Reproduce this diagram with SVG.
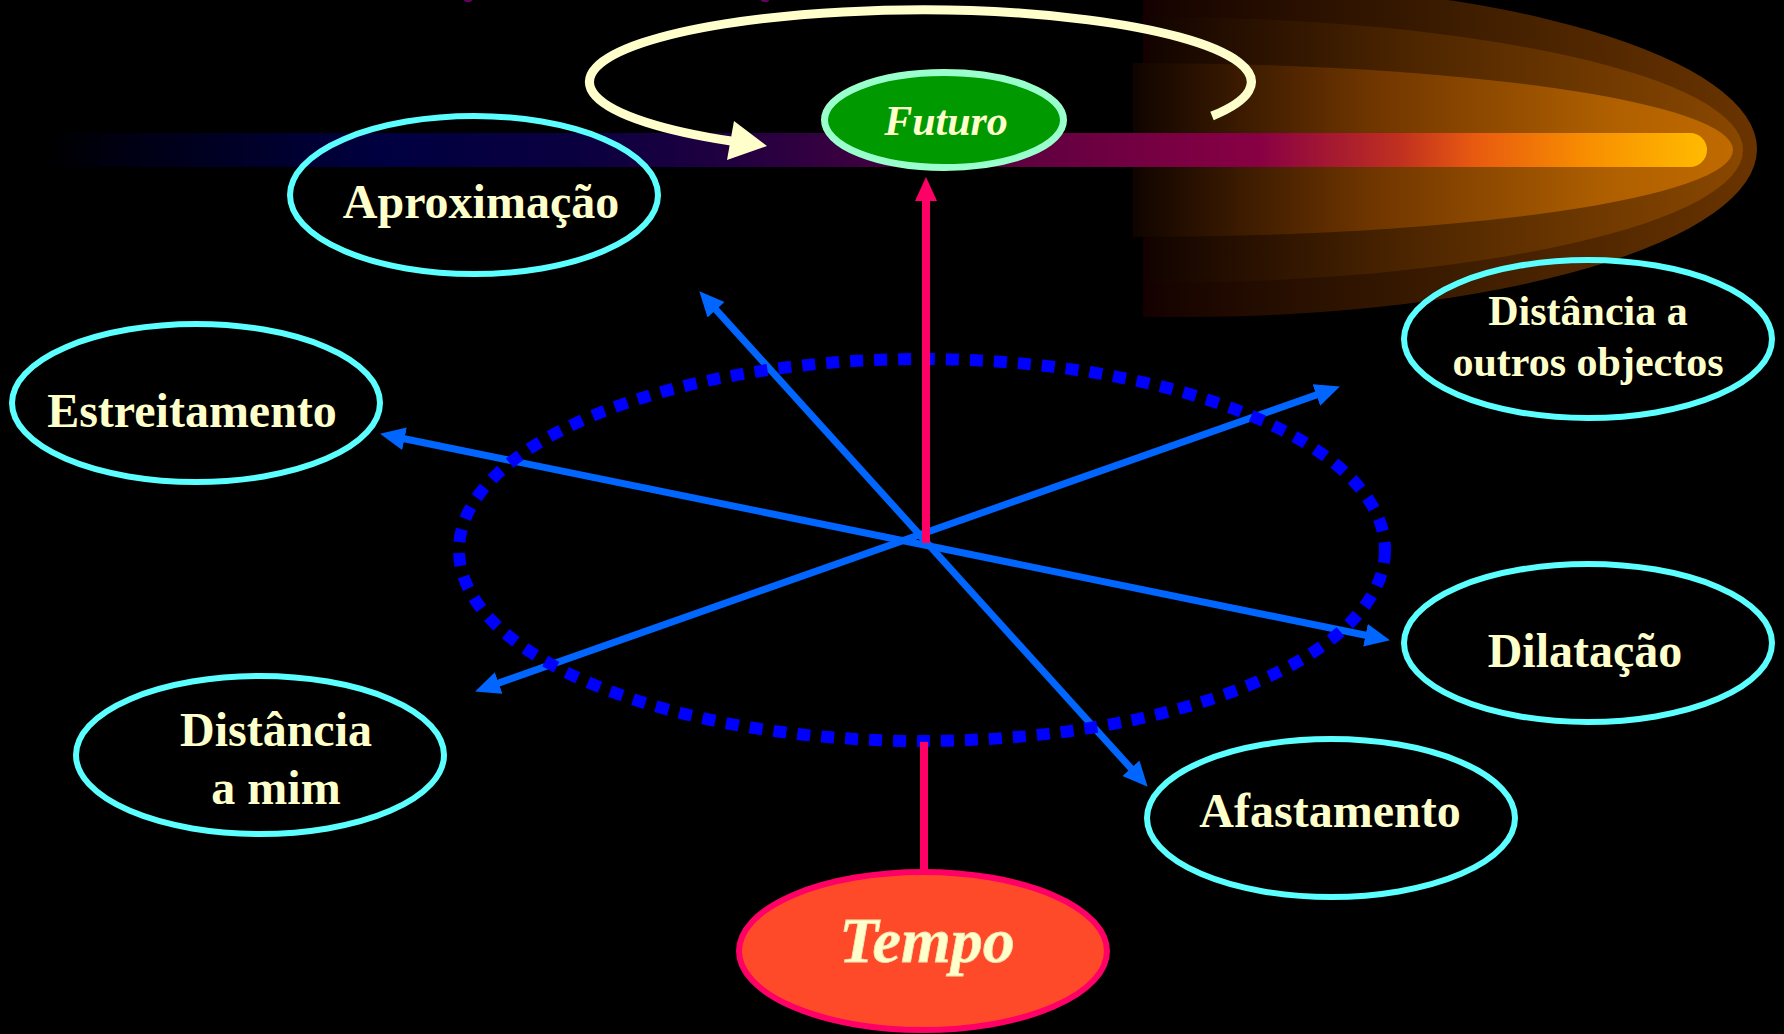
<svg xmlns="http://www.w3.org/2000/svg" width="1784" height="1034" viewBox="0 0 1784 1034">
  <defs>
    <style>
      .lbl { font-family: "Liberation Serif", "Times New Roman", serif; font-weight: bold; fill: #ffffcc; text-anchor: middle; }
      .big { font-size: 48px; }
      .med { font-size: 42px; }
      .ital { font-style: italic; }
      .node { fill: none; stroke: #5cffff; stroke-width: 6; }
      .blue { stroke: #0066ff; stroke-width: 7; fill: none; marker-start: url(#ab); marker-end: url(#ab); }
      .pink { stroke: #ff0066; stroke-width: 8; fill: none; }
    </style>
    <marker id="ab" viewBox="0 0 25 23" markerWidth="25" markerHeight="23" refX="4" refY="11.5" orient="auto-start-reverse" markerUnits="userSpaceOnUse">
      <path d="M0,0 L25,11.5 L0,23 Z" fill="#0066ff"/>
    </marker>
    <linearGradient id="gbar" gradientUnits="userSpaceOnUse" x1="45" y1="0" x2="1707" y2="0">
      <stop offset="0" stop-color="#000000"/>
      <stop offset="0.04" stop-color="#000010"/>
      <stop offset="0.2" stop-color="#000040"/>
      <stop offset="0.32" stop-color="#0a0040"/>
      <stop offset="0.41" stop-color="#200040"/>
      <stop offset="0.59" stop-color="#600040"/>
      <stop offset="0.73" stop-color="#880044"/>
      <stop offset="0.815" stop-color="#c03020"/>
      <stop offset="0.86" stop-color="#e85a10"/>
      <stop offset="0.93" stop-color="#f89000"/>
      <stop offset="1" stop-color="#ffbb00"/>
    </linearGradient>
    <linearGradient id="g1" gradientUnits="userSpaceOnUse" x1="1143" y1="0" x2="1757" y2="0">
      <stop offset="0" stop-color="#140000"/>
      <stop offset="0.07" stop-color="#1a0600"/>
      <stop offset="0.5" stop-color="#3c1c00"/>
      <stop offset="1" stop-color="#6a3400"/>
    </linearGradient>
    <linearGradient id="g2" gradientUnits="userSpaceOnUse" x1="1150" y1="0" x2="1743" y2="0">
      <stop offset="0" stop-color="#120400"/>
      <stop offset="0.45" stop-color="#4e2600"/>
      <stop offset="1" stop-color="#8a4800"/>
    </linearGradient>
    <linearGradient id="g3" gradientUnits="userSpaceOnUse" x1="1133" y1="0" x2="1733" y2="0">
      <stop offset="0" stop-color="#100400"/>
      <stop offset="0.4" stop-color="#703600"/>
      <stop offset="0.8" stop-color="#b06000"/>
      <stop offset="1" stop-color="#c06a00"/>
    </linearGradient>
  </defs>

  <rect x="0" y="0" width="1784" height="1034" fill="#000000"/>

  <!-- top marks -->
  <ellipse cx="468" cy="0" rx="4" ry="2" fill="#660066"/>
  <ellipse cx="765" cy="0" rx="4" ry="2" fill="#660066"/>

  <!-- comet glow -->
  <g id="glow">
    <path d="M1143,-19 H1183 A574,168 0 0 1 1183,317 H1143 Z" fill="url(#g1)"/>
    <path d="M1150,17 A593,133 0 0 1 1150,283 Z" fill="url(#g2)"/>
    <path d="M1133,63 A600,87 0 0 1 1133,237 Z" fill="url(#g3)"/>
    <path d="M45,133 H1690 A17,17 0 0 1 1690,167 H45 Z" fill="url(#gbar)"/>
  </g>

  <!-- connectors -->
  <g id="connectors">
    <path d="M1212,116 A331,72 0 1 0 731,141" fill="none" stroke="#ffffcc" stroke-width="9"/>
    <polygon points="767,146 734,121 727,160" fill="#ffffcc"/>
    <line class="blue" x1="713.4" y1="306.8" x2="1133.6" y2="771.2"/>
    <line class="blue" x1="400.6" y1="438" x2="1369.4" y2="636"/>
    <line class="blue" x1="494.9" y1="684.4" x2="1320.1" y2="393.6"/>
    <ellipse cx="922" cy="550" rx="463" ry="191" fill="none" stroke="#0000ff" stroke-width="12" stroke-dasharray="13 11"/>
    <line class="pink" x1="926" y1="543" x2="926" y2="196" stroke-width="7"/>
    <polygon points="926,177 915,201 937,201" fill="#ff0066"/>
    <line class="pink" x1="924" y1="742" x2="924" y2="874"/>
  </g>

  <g id="futuro">
    <ellipse cx="944" cy="120" rx="119.5" ry="47.5" fill="#009900" stroke="#99ffcc" stroke-width="7"/>
    <text class="lbl ital" x="946" y="135" font-size="42">Futuro</text>
  </g>

  <g id="aproximacao">
    <ellipse class="node" cx="474" cy="195" rx="184" ry="79"/>
    <text class="lbl big" x="481" y="218">Aproximação</text>
  </g>

  <g id="estreitamento">
    <ellipse class="node" cx="196" cy="403" rx="184" ry="79"/>
    <text class="lbl big" x="192" y="427">Estreitamento</text>
  </g>

  <g id="distancia-mim">
    <ellipse class="node" cx="260" cy="755" rx="184" ry="79"/>
    <text class="lbl big" x="276" y="746">Distância</text>
    <text class="lbl big" x="276" y="804">a mim</text>
  </g>

  <g id="distancia-outros">
    <ellipse class="node" cx="1588" cy="339" rx="184" ry="79"/>
    <text class="lbl med" x="1588" y="325">Distância a</text>
    <text class="lbl med" x="1588" y="376">outros objectos</text>
  </g>

  <g id="dilatacao">
    <ellipse class="node" cx="1588" cy="643" rx="184" ry="79"/>
    <text class="lbl big" x="1585" y="667">Dilatação</text>
  </g>

  <g id="afastamento">
    <ellipse class="node" cx="1331" cy="818" rx="184" ry="79"/>
    <text class="lbl big" x="1330" y="827">Afastamento</text>
  </g>

  <g id="tempo">
    <ellipse cx="923" cy="951" rx="184" ry="79" fill="#ff4a2a" stroke="#ff0066" stroke-width="6"/>
    <text class="lbl ital" x="927" y="962" font-size="64" stroke="#f0e0b0" stroke-width="0.8">Tempo</text>
  </g>
</svg>
